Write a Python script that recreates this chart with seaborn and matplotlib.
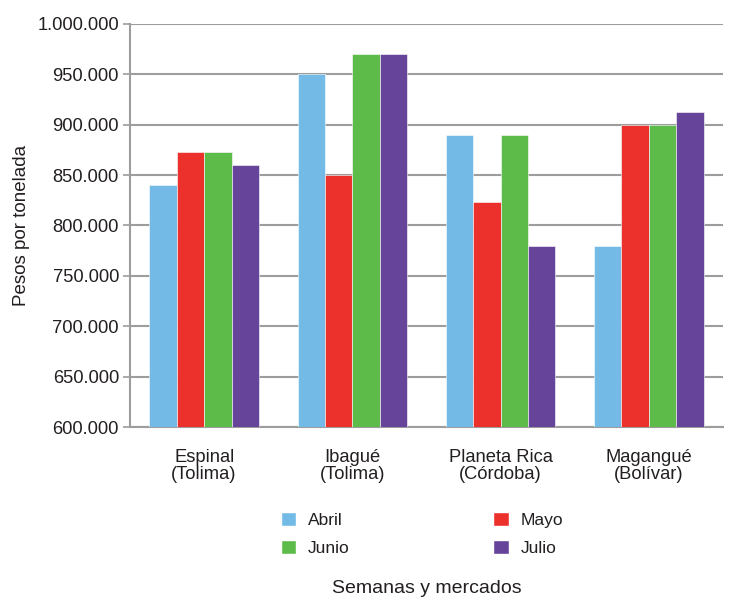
import matplotlib
matplotlib.use("Agg")
import matplotlib.pyplot as plt
import matplotlib.ticker as mticker
from matplotlib.patches import Patch
import pandas as pd
import seaborn as sns

mercados = ["Espinal\n(Tolima)", "Ibagué\n(Tolima)", "Planeta Rica\n(Córdoba)", "Magangué\n(Bolívar)"]
meses = ["Abril", "Mayo", "Junio", "Julio"]
abril = [840000, 950000, 890000, 780000]
mayo = [873000, 850000, 823000, 900000]
junio = [873000, 970000, 890000, 900000]
julio = [860000, 970000, 780000, 913000]
colores = ["#73bbe6", "#ec312d", "#5dbb4a", "#65449a"]


def setup():
    sns.set_style("white")
    plt.rcParams["font.family"] = ["Liberation Sans", "DejaVu Sans"]
    plt.rcParams["text.color"] = "#231f20"
    plt.rcParams["axes.labelcolor"] = "#231f20"
    plt.rcParams["xtick.color"] = "#231f20"
    plt.rcParams["ytick.color"] = "#231f20"


def plot():
    rows = []
    for mes, vals in zip(meses, [abril, mayo, junio, julio]):
        for m, v in zip(mercados, vals):
            rows.append({"mercado": m, "mes": mes, "precio": v})
    df = pd.DataFrame(rows)

    fig = plt.figure(figsize=(7.31, 6), dpi=100)
    ax = fig.add_axes([130 / 731, 173 / 600, 593 / 731, 403 / 600])

    sns.barplot(data=df, x="mercado", y="precio", hue="mes", hue_order=meses,
                palette=colores, saturation=1, width=0.74, ax=ax, legend=False,
                edgecolor="white", linewidth=0.4, zorder=3)

    ax.set_ylim(600000, 1000000)
    ax.set_xlim(-0.5, 3.5)
    ax.yaxis.set_major_locator(mticker.MultipleLocator(50000))
    ax.yaxis.set_major_formatter(
        mticker.FuncFormatter(lambda v, p: f"{v:,.0f}".replace(",", ".")))
    ax.yaxis.grid(True, color="#9d9d9d", linewidth=1.5, zorder=0)
    ax.set_axisbelow(True)

    for s in ["top", "right"]:
        ax.spines[s].set_visible(False)
    for s in ["left", "bottom"]:
        ax.spines[s].set_color("#9d9d9d")
        ax.spines[s].set_linewidth(1.5)

    ax.tick_params(axis="y", left=True, length=5, width=1.2, color="#9d9d9d",
                   labelsize=13.2, pad=3)
    ax.tick_params(axis="x", bottom=False, labelsize=13.2, pad=12)
    for t in ax.get_xticklabels():
        t.set_linespacing(1.05)

    ax.set_ylabel("Pesos por tonelada", fontsize=13.5, labelpad=5)
    ax.set_xlabel("Semanas y mercados", fontsize=14, labelpad=70)

    # legend rows: Abril / Mayo, Junio / Julio
    orden = [0, 2, 1, 3]
    handles = [Patch(facecolor=colores[i], label=meses[i]) for i in orden]
    fig.legend(handles=handles, ncol=2, loc="center",
               bbox_to_anchor=(0.577, 0.11), frameon=False, fontsize=12.5,
               handlelength=0.9, handleheight=0.9, handletextpad=0.65,
               columnspacing=8.3, labelspacing=0.7)

    fig.savefig("out.png", dpi=100)
    plt.close()


if __name__ == "__main__":
    setup()
    plot()
